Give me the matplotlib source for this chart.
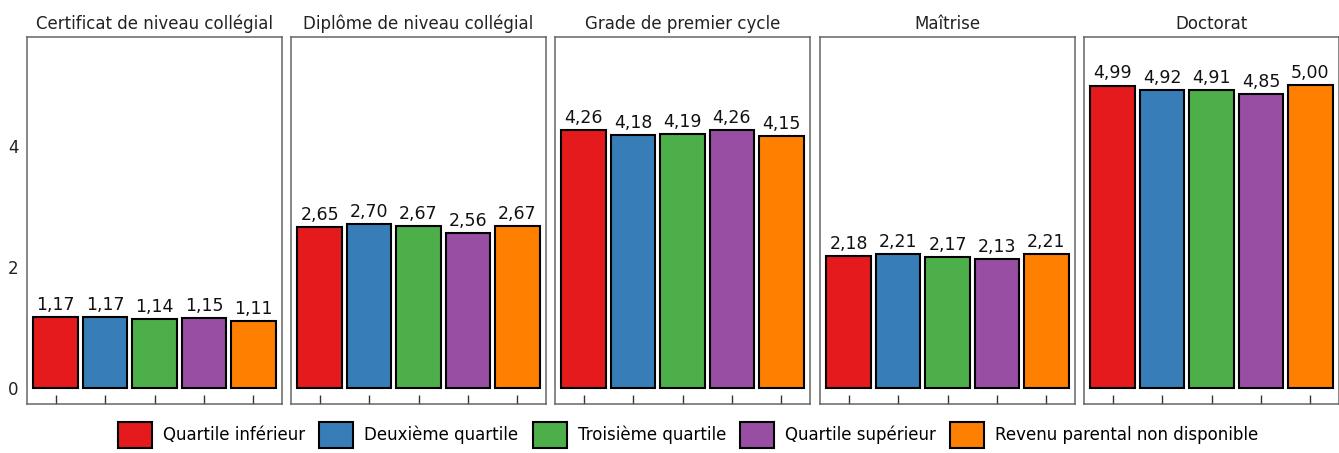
import numpy as np
import matplotlib
matplotlib.use('Agg')
import matplotlib.pyplot as plt

panels = ['Certificat de niveau collégial', 'Diplôme de niveau collégial',
          'Grade de premier cycle', 'Maîtrise', 'Doctorat']
groups = ['Quartile inférieur', 'Deuxième quartile', 'Troisième quartile',
          'Quartile supérieur', 'Revenu parental non disponible']
values = [
    [1.17, 1.17, 1.14, 1.15, 1.11],
    [2.65, 2.70, 2.67, 2.56, 2.67],
    [4.26, 4.18, 4.19, 4.26, 4.15],
    [2.18, 2.21, 2.17, 2.13, 2.21],
    [4.99, 4.92, 4.91, 4.85, 5.00],
]
colors = ['#E41A1C', '#377EB8', '#4DAF4A', '#984EA3', '#FF7F00']

W, H = 1339, 453
fig = plt.figure(figsize=(W / 100, H / 100), dpi=100)
fig.set_facecolor('white')

lefts = [27, 291, 555, 820, 1084]
pw = 255
bottom_px, top_px = 404, 37

x = np.arange(5)
for i, name in enumerate(panels):
    ax = fig.add_axes([lefts[i] / W, 1 - bottom_px / H, pw / W, (bottom_px - top_px) / H])
    bars = ax.bar(x, values[i], width=0.9, color=colors, edgecolor='black', linewidth=1.5)
    for xi, v in zip(x, values[i]):
        ax.text(xi, v + 0.05, f'{v:.2f}'.replace('.', ','), ha='center', va='bottom',
                fontsize=12.5, color='#111')
    ax.set_xlim(-0.58, 4.58)
    ax.set_ylim(-0.26, 5.79)
    ax.set_xticks(x)
    ax.set_xticklabels([])
    ax.tick_params(axis='x', direction='in', length=6.5, width=1, color='#333')
    ax.set_title(name, fontsize=12, pad=6, color='#222')
    for s in ax.spines.values():
        s.set_color('#666')
        s.set_linewidth(1.1)
    if i == 0:
        ax.set_yticks([0, 2, 4])
        ax.tick_params(axis='y', length=0, labelsize=12, pad=6, labelcolor='#222')
        handles = bars
    else:
        ax.set_yticks([])

fig.legend(handles, groups, loc='center', bbox_to_anchor=(0.514, 0.04), ncol=5,
           frameon=False, fontsize=12, handlelength=2.05, handleheight=2.0,
           handletextpad=0.65, columnspacing=0.85)

fig.savefig('out.png', dpi=100)
